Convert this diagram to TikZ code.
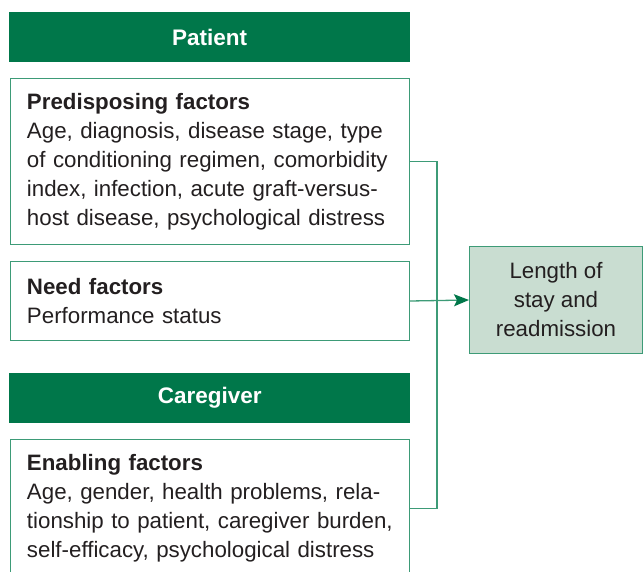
\documentclass[tikz,border=0pt]{standalone}
\usepackage{fontspec}
\setmainfont{Liberation Sans}
\usetikzlibrary{positioning,arrows.meta}
\definecolor{cGreen}{HTML}{00774A}
\definecolor{cLine}{HTML}{3D9B77}
\definecolor{cPale}{HTML}{C9DDD1}
\definecolor{cText}{HTML}{231F20}
\hyphenpenalty=10000

\begin{document}
\begin{tikzpicture}[x=1pt,y=-1pt,
    header/.style={fill=cGreen, text=white, font=\bfseries\fontsize{22.5}{24}\selectfont, minimum width=401pt, minimum height=50pt, inner sep=0pt, anchor=north west},
    factor/.style={draw=cLine, line width=1pt, text=cText, align=left, text width=366pt, inner xsep=16.5pt, inner ysep=0pt, font=\fontsize{22.3}{29}\selectfont, anchor=north west},
    outcome/.style={draw=cLine, line width=1pt, fill=cPale, text=cText, align=center, minimum width=173pt, minimum height=107pt, font=\fontsize{22.3}{29}\selectfont, anchor=north west},
    link/.style={draw=cLine, line width=1.3pt}]
			\useasboundingbox (0,0) rectangle (643,571);
			\node[header] (patient) at (9,12) {Patient};
			\node[factor, minimum height=166pt] (predis) at (10,78) {\textbf{Predisposing factors}\\Age, diagnosis, disease stage, type\\of conditioning regimen, comorbidity\\index, infection, acute graft-versus-\\host disease, psychological distress};
			\node[factor, minimum height=79pt] (need) at (10,261) {\textbf{Need factors}\\Performance status};
			\node[header] (caregiver) at (9,373) {Caregiver};
			\node[factor, minimum height=138pt] (enabling) at (10,439) {\textbf{Enabling factors}\\Age, gender, health problems, rela-\\tionship to patient, caregiver burden,\\self-efficacy, psychological distress};
			\node[outcome] (stay) at (469,246) {Length of\\stay and\\readmission};
			% bracket joining the factors
			\coordinate (bx) at (437,300);
			\draw[link] (predis.east) -- (predis.east -| bx) -- (enabling.east -| bx) -- (enabling.east);
			\draw[link, -{Stealth[length=15pt,width=12pt,inset=3pt,color=cGreen]}] (need.east) -- (stay.west);
		\end{tikzpicture}
\end{document}
